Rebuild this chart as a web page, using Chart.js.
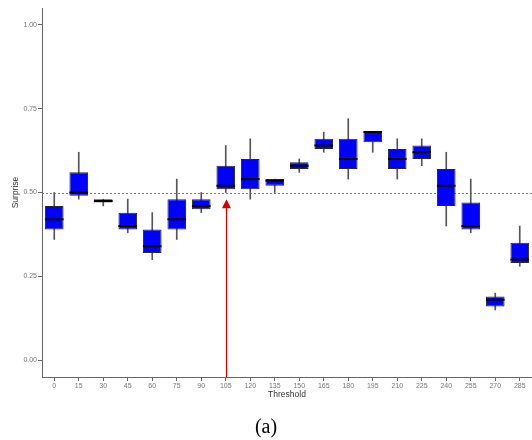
<!DOCTYPE html>
<html>
<head>
<meta charset="utf-8">
<script src="https://cdn.jsdelivr.net/npm/chart.js@4.4.1/dist/chart.umd.min.js"></script>
<style>
  html, body { margin: 0; padding: 0; background: #fff; }
  #wrap { width: 532px; height: 440px; }
</style>
</head>
<body>
<div id="wrap"><canvas id="surpriseChart"></canvas></div>
<script>
// box plot summaries per threshold
var thresholds = ['0', '15', '30', '45', '60', '75', '90', '105', '120', '135',
                  '150', '165', '180', '195', '210', '225', '240', '255', '270', '285'];
var whiskerLow  = [0.36, 0.48, 0.46, 0.38, 0.30, 0.36, 0.44, 0.50, 0.48, 0.50,
                   0.56, 0.62, 0.54, 0.62, 0.54, 0.58, 0.40, 0.38, 0.15, 0.28];
var q1          = [0.39, 0.49, 0.47, 0.39, 0.32, 0.39, 0.45, 0.51, 0.51, 0.52,
                   0.57, 0.63, 0.57, 0.65, 0.57, 0.60, 0.46, 0.39, 0.16, 0.29];
var median      = [0.42, 0.50, 0.475, 0.40, 0.34, 0.42, 0.46, 0.52, 0.54, 0.535,
                   0.58, 0.64, 0.60, 0.68, 0.60, 0.62, 0.52, 0.40, 0.18, 0.30];
var q3          = [0.46, 0.56, 0.48, 0.44, 0.39, 0.48, 0.48, 0.58, 0.60, 0.54,
                   0.59, 0.66, 0.66, 0.68, 0.63, 0.64, 0.57, 0.47, 0.19, 0.35];
var whiskerHigh = [0.50, 0.62, 0.48, 0.48, 0.44, 0.54, 0.50, 0.64, 0.66, 0.54,
                   0.60, 0.68, 0.72, 0.68, 0.66, 0.66, 0.62, 0.54, 0.20, 0.40];
var yTicks = [0, 0.25, 0.5, 0.75, 1];

var refLevel = 0.5;
var markedThreshold = '105';
var markedTip = 0.48;

// dotted horizontal line at the reference level, behind the boxes
var refLine = {
    id: 'refLine',
    beforeDatasetsDraw: function(chart) {
        var ctx = chart.ctx;
        var area = chart.chartArea;
        var y = Math.round(chart.scales.y.getPixelForValue(refLevel)) + 0.5;
        ctx.save();
        ctx.strokeStyle = '#7a7a7a';
        ctx.lineWidth = 1;
        ctx.setLineDash([2, 2]);
        ctx.beginPath();
        ctx.moveTo(area.left, y);
        ctx.lineTo(area.right, y);
        ctx.stroke();
        ctx.restore();
    }
};

// red arrow pointing up at the chosen threshold
var arrow = {
    id: 'arrow',
    afterDatasetsDraw: function(chart) {
        var ctx = chart.ctx;
        var yScale = chart.scales.y;
        var x = Math.round(chart.scales.x.getPixelForValue(thresholds.indexOf(markedThreshold))) + 0.5;
        var yBase = yScale.getPixelForValue(yScale.min);
        var yTip = yScale.getPixelForValue(markedTip);
        ctx.save();
        ctx.strokeStyle = '#d40000';
        ctx.fillStyle = '#d40000';
        ctx.lineWidth = 1.2;
        ctx.beginPath();
        ctx.moveTo(x, yBase);
        ctx.lineTo(x, yTip + 8);
        ctx.stroke();
        ctx.beginPath();
        ctx.moveTo(x, yTip);
        ctx.lineTo(x - 4.5, yTip + 9);
        ctx.lineTo(x + 4.5, yTip + 9);
        ctx.closePath();
        ctx.fill();
        ctx.restore();
    }
};

var axisColor = '#666';
var tickFont = { family: "'Liberation Sans', Arial, sans-serif", size: 7 };
var titleFont = { family: "'Liberation Sans', Arial, sans-serif", size: 8.5 };

new Chart(document.getElementById('surpriseChart'), {
    type: 'bar',
    data: {
        labels: thresholds,
        datasets: [
            {
                type: 'line',
                data: median,
                showLine: false,
                pointStyle: 'line',
                pointRadius: 9.3,
                pointBorderWidth: 2,
                pointBorderColor: '#000',
                borderColor: '#000',
                order: 0
            },
            {
                data: thresholds.map(function(t, i) { return [q1[i], q3[i]]; }),
                backgroundColor: '#0000ff',
                borderColor: '#2a2a2a',
                borderWidth: 1,
                borderSkipped: false,
                barPercentage: 0.76,
                categoryPercentage: 1,
                grouped: false,
                order: 1
            },
            {
                data: thresholds.map(function(t, i) { return [whiskerLow[i], whiskerHigh[i]]; }),
                backgroundColor: '#555',
                barThickness: 1,
                grouped: false,
                order: 2
            }
        ]
    },
    options: {
        responsive: true,
        maintainAspectRatio: false,
        animation: false,
        events: [],
        layout: { autoPadding: false, padding: { top: 8, left: 0, right: 0, bottom: 0 } },
        plugins: {
            legend: { display: false },
            tooltip: { enabled: false },
            title: {
                display: true,
                position: 'bottom',
                text: '(a)',
                color: '#000',
                font: { family: "'Liberation Serif', 'Times New Roman', serif", size: 20, weight: 'normal' },
                padding: { top: 16, bottom: 0 }
            }
        },
        scales: {
            x: {
                grid: { display: true, offset: false, drawOnChartArea: false, drawTicks: true, tickLength: 4, color: axisColor },
                border: { display: true, color: axisColor, width: 1 },
                ticks: { color: '#777', font: tickFont, padding: 1, maxRotation: 0, autoSkip: false },
                title: { display: true, text: 'Threshold', color: '#333', font: titleFont, padding: { top: 0, bottom: 0 } },
                afterFit: function(scale) { scale.height = 23; }
            },
            y: {
                min: -0.05,
                max: 1.05,
                afterBuildTicks: function(scale) {
                    scale.ticks = yTicks.map(function(v) { return { value: v }; });
                },
                grid: { display: true, drawOnChartArea: false, drawTicks: true, tickLength: 4, color: axisColor },
                border: { display: true, color: axisColor, width: 1 },
                ticks: {
                    color: '#777',
                    font: tickFont,
                    padding: 1,
                    callback: function(v) { return Number(v).toFixed(2); }
                },
                title: { display: true, text: 'Surprise', color: '#333', font: titleFont, padding: { top: 11, bottom: 0 } },
                afterFit: function(scale) { scale.width = 42; }
            }
        }
    },
    plugins: [refLine, arrow]
});
</script>
</body>
</html>
